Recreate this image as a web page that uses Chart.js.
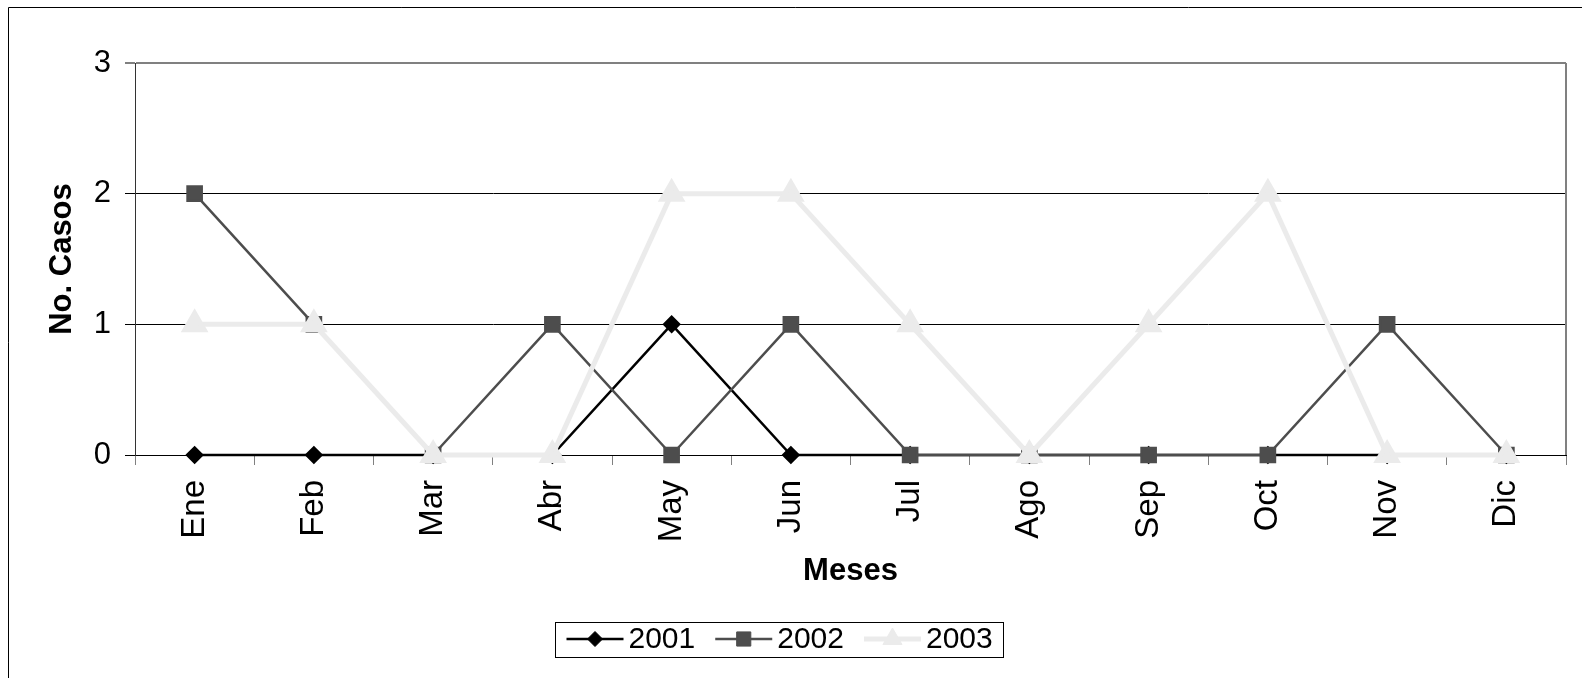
<!DOCTYPE html>
<html>
<head>
<meta charset="utf-8">
<script src="https://cdn.jsdelivr.net/npm/chart.js@4/dist/chart.umd.min.js"></script>
<style>
  html, body { margin: 0; padding: 0; background: #fff; }
  #wrap { width: 1582px; height: 678px; }
</style>
</head>
<body>
<div id="wrap"><canvas id="casosChart" width="1582" height="678"></canvas></div>
<script>
// ---- data ----
const months = ['Ene', 'Feb', 'Mar', 'Abr', 'May', 'Jun', 'Jul', 'Ago', 'Sep', 'Oct', 'Nov', 'Dic'];
const years = ['2001', '2002', '2003'];
const casos2001 = [0, 0, 0, 0, 1, 0, 0, 0, 0, 0, 0, 0];
const casos2002 = [2, 1, 0, 1, 0, 1, 0, 0, 0, 0, 1, 0];
const casos2003 = [1, 1, 0, 0, 2, 2, 1, 0, 1, 2, 0, 0];
const yMin = 0;
const yMax = 3;
const yStep = 1;

const FONT = "'Liberation Sans', Arial, sans-serif";

// frame of the chart object + gray plot border (right)
const framePlugin = {
  id: 'frame',
  beforeDraw(chart) {
    const ctx = chart.ctx;
    ctx.save();
    ctx.fillStyle = '#fff';
    ctx.fillRect(0, 0, chart.width, chart.height);
    ctx.strokeStyle = '#000';
    ctx.lineWidth = 1;
    ctx.beginPath();
    ctx.moveTo(8.5, chart.height);
    ctx.lineTo(8.5, 7.5);
    ctx.lineTo(chart.width, 7.5);
    ctx.stroke();
    ctx.restore();
  },
  beforeDatasetsDraw(chart) {
    const a = chart.chartArea;
    const ctx = chart.ctx;
    ctx.save();
    ctx.strokeStyle = '#808080';
    ctx.lineWidth = 2;
    ctx.beginPath();
    ctx.moveTo(a.right, a.top);
    ctx.lineTo(a.right, a.bottom);
    ctx.stroke();
    ctx.restore();
  }
};

// Excel-style legend: line + marker + label, boxed
const legendPlugin = {
  id: 'boxLegend',
  afterDraw(chart) {
    const ctx = chart.ctx;
    const cx = 779, cy = 639, boxH = 35;
    const lineLen = 57, gapText = 5, gapItem = 20, padX = 11;
    ctx.save();
    ctx.font = '30px ' + FONT;
    const items = chart.data.datasets.map(ds => ({ ds, w: ctx.measureText(ds.label).width }));
    let total = padX * 2;
    items.forEach((it, i) => { total += lineLen + gapText + it.w + (i < items.length - 1 ? gapItem : 0); });
    const x0 = Math.round(cx - total / 2) + 0.5;
    ctx.strokeStyle = '#000';
    ctx.lineWidth = 1;
    ctx.strokeRect(x0, Math.round(cy - boxH / 2) + 0.5, Math.round(total), boxH);
    let x = x0 + padX;
    items.forEach(it => {
      const ds = it.ds;
      ctx.strokeStyle = ds.borderColor;
      ctx.lineWidth = ds.borderWidth;
      ctx.beginPath();
      ctx.moveTo(x, cy);
      ctx.lineTo(x + lineLen, cy);
      ctx.stroke();
      ctx.fillStyle = ds.pointBackgroundColor;
      ctx.strokeStyle = ds.pointBorderColor;
      ctx.lineWidth = 1;
      Chart.helpers.drawPoint(ctx, { pointStyle: ds.pointStyle, rotation: 0, radius: ds.pointRadius, borderWidth: 1 }, x + lineLen / 2, cy);
      x += lineLen + gapText;
      ctx.fillStyle = '#000';
      ctx.textBaseline = 'middle';
      ctx.textAlign = 'left';
      ctx.fillText(ds.label, x, cy + 1);
      x += it.w + gapItem;
    });
    ctx.restore();
  }
};

new Chart(document.getElementById('casosChart'), {
  type: 'line',
  data: {
    labels: months,
    datasets: [
      {
        label: years[0],
        data: casos2001,
        borderColor: '#000000',
        borderWidth: 2.5,
        pointStyle: 'rectRot',
        pointRadius: 7.5,
        pointBackgroundColor: '#000000',
        pointBorderColor: '#000000',
        clip: false,
        order: 3
      },
      {
        label: years[1],
        data: casos2002,
        borderColor: '#4d4d4d',
        borderWidth: 2.5,
        pointStyle: 'rect',
        pointRadius: 10,
        pointBackgroundColor: '#4d4d4d',
        pointBorderColor: '#4d4d4d',
        clip: false,
        order: 2
      },
      {
        label: years[2],
        data: casos2003,
        borderColor: '#ebebeb',
        borderWidth: 5,
        pointStyle: 'triangle',
        pointRadius: 11,
        pointBackgroundColor: '#ebebeb',
        pointBorderColor: '#ebebeb',
        clip: false,
        order: 1
      }
    ]
  },
  options: {
    responsive: false,
    devicePixelRatio: 1,
    animation: false,
    layout: { padding: { left: 40, top: 63, right: 16, bottom: 88 } },
    plugins: {
      legend: { display: false },
      tooltip: { enabled: false }
    },
    elements: { line: { tension: 0 } },
    scales: {
      x: {
        offset: true,
        afterFit: s => { s.height = 135; },
        grid: { offset: true, drawOnChartArea: false, tickLength: 10, color: '#808080', lineWidth: 1 },
        border: { color: '#000', width: 1 },
        ticks: {
          autoSkip: false, minRotation: 90, maxRotation: 90, padding: 15,
          color: '#000', font: { family: FONT, size: 33 }
        },
        title: {
          display: true, text: 'Meses', color: '#000', padding: 0,
          font: { family: FONT, size: 31, weight: 'bold' }
        }
      },
      y: {
        min: yMin, max: yMax,
        afterFit: s => { s.width = 95; },
        grid: {
          color: c => (c.tick && c.tick.value === yMax ? '#808080' : '#000'),
          lineWidth: c => (c.tick && c.tick.value === yMax ? 2 : 1),
          tickLength: 10
        },
        border: { color: '#333', width: 1 },
        ticks: {
          stepSize: yStep, padding: 14, color: '#000',
          font: { family: FONT, size: 31 }
        },
        title: {
          display: true, text: 'No. Casos', color: '#000', padding: 4,
          font: { family: FONT, size: 31, weight: 'bold' }
        }
      }
    }
  },
  plugins: [framePlugin, legendPlugin]
});
</script>
</body>
</html>
